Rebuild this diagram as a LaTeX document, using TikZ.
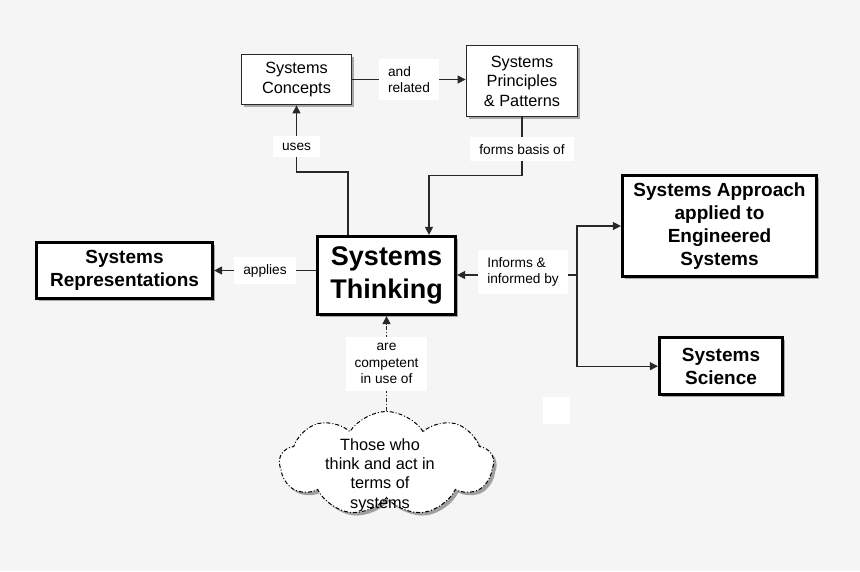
\documentclass[tikz,border=0pt]{standalone}
\usepackage{fontspec}
\setmainfont{Liberation Sans}
\usetikzlibrary{shapes, shadows, arrows.meta, positioning}
\definecolor{paper}{RGB}{245,245,245}
\definecolor{ink}{RGB}{40,40,40}

\begin{document}
\begin{tikzpicture}[x=1pt, y=-1pt, node distance = 1ex, >={Triangle[length=8pt, width=8pt]}]
 \tikzstyle{boxshadow} = [drop shadow={shadow xshift=2.5pt, shadow yshift=-2.5pt, opacity=0.45, fill=black!70}]
 \tikzstyle{thinbox} = [draw=ink, line width=1.8pt, fill=white, rectangle, boxshadow, align=center, inner sep=0pt, font=\fontsize{16.3pt}{19.5pt}\selectfont]
 \tikzstyle{boldbox} = [draw=black, line width=3.2pt, fill=white, rectangle, boxshadow, align=center, inner sep=0pt, font=\bfseries\fontsize{19pt}{23pt}\selectfont]
 \tikzstyle{hubbox} = [boldbox, font=\bfseries\fontsize{27pt}{33pt}\selectfont]
 \tikzstyle{lbl} = [fill=white, rectangle, align=center, inner xsep=9pt, inner ysep=7pt, font=\fontsize{13.7pt}{16.3pt}\selectfont]
 \tikzstyle{link} = [->, draw=ink, line width=1.2pt]
 \tikzstyle{dashdotted} = [dash pattern=on 4pt off 2pt on 1pt off 2pt]
 \tikzstyle{cloudy} = [cloud, cloud puffs=9, cloud puff arc=115, cloud ignores aspect, draw=black, line width=1pt, dashdotted, fill=white, drop shadow={shadow xshift=3pt, shadow yshift=-3pt, opacity=0.5, fill=black!70}, minimum width=214pt, minimum height=104pt, inner sep=0pt]

 \useasboundingbox [fill=paper] (0,0) rectangle (860,571);

 % concept nodes
 \node [hubbox, minimum width=138pt, minimum height=78pt] (ST) at (386.5,275.5) {Systems\\Thinking};
 \node [thinbox, minimum width=110pt, minimum height=50pt] (SC) at (296.5,79.5) {Systems\\Concepts};
 \node [thinbox, minimum width=111pt, minimum height=71pt] (SP) at (522,81) {Systems\\Principles\\\& Patterns};
 \node [boldbox, minimum width=176pt, minimum height=56pt] (SR) at (124.5,270.5) {Systems\\Representations};
 \node [boldbox, minimum width=194pt, minimum height=101pt] (SA) at (719.5,226) {Systems Approach\\applied to\\Engineered\\Systems};
 \node [boldbox, minimum width=123pt, minimum height=57pt, below = 58pt of SA, xshift=1.5pt] (SS) {Systems\\Science};
 \node [cloudy] (crowd) at (386.5,463.5) {};
 \node [align=center, font=\fontsize{16.3pt}{19.3pt}\selectfont] (crowdtext) at (380,475) {Those who\\think and act in\\terms of\\systems};
 \fill [white] (543,397) rectangle (570,424);

 % connectors
 \draw [link] (SC.east) -- node[lbl, align=left] {and\\related} (SC.east -| SP.west);
 \draw [link] ([xshift=-38.5pt]ST.north) -- ++(0,-63) -| node[lbl, pos=0.69] {uses} (SC.south);
 \draw [link] (SP.south) -- node[lbl, pos=0.55] {forms basis of} ++(0,58) -| ([xshift=42.5pt]ST.north);
 \draw [link] (ST.west |- SR.east) -- node[lbl] {applies} (SR.east);
 \coordinate (fork) at (577,275);
 \draw [link] (fork) -- node[lbl, align=left, pos=0.45, yshift=3pt] {Informs \&\\informed by} (fork -| ST.east);
 \draw [link] (fork) |- (SA.west);
 \draw [link] (fork) |- (SS.west);
 \draw [link, dashdotted] (crowd.north) -- node[lbl] {are\\competent\\in use of} (ST.south);
\end{tikzpicture}
\end{document}
